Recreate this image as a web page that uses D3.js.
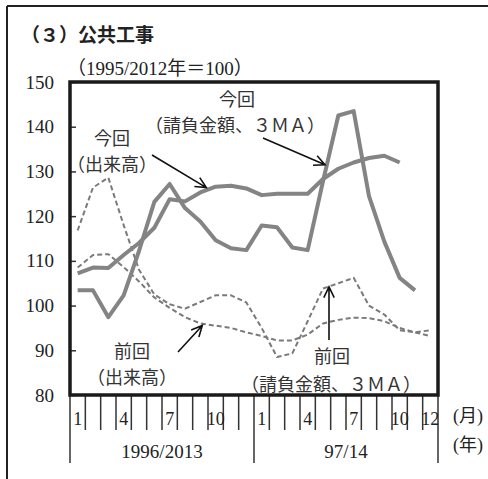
<!DOCTYPE html>
<html lang="ja">
<head>
<meta charset="utf-8">
<script src="https://cdn.jsdelivr.net/npm/d3@7/dist/d3.min.js"></script>
<style>
  html, body { margin: 0; padding: 0; background: #fff; }
  svg { display: block; }
</style>
</head>
<body>
<svg id="chart" width="488" height="479"></svg>
<script>
// （3）公共工事 — 今回 vs 前回, index (1995/2012 = 100), 24 months
const yTicks = [80, 90, 100, 110, 120, 130, 140, 150];
const periods = ["1996/2013", "97/14"];
const monthLabels = [[1, 4, 7, 10], [1, 4, 7, 10, 12]];

// 今回（請負金額、3MA）
const currentContract = [103.4, 103.4, 97.4, 102.3, 112.2, 123.2, 127.2, 121.8, 118.8, 114.6,
  112.8, 112.4, 117.9, 117.5, 113.0, 112.4, 127.8, 142.5, 143.5, 124.5, 114.3, 106.2, 103.4];
// 今回（出来高）
const currentOutput = [107.2, 108.5, 108.4, 111.3, 114.0, 117.4, 123.8, 123.3, 125.3, 126.6,
  126.8, 126.2, 124.7, 125.0, 125.0, 125.0, 128.3, 130.6, 132.0, 133.0, 133.5, 132.0];
// 前回（請負金額、3MA）
const previousContract = [116.8, 126.4, 128.6, 118.0, 108.0, 102.5, 100.3, 99.3, 100.8, 102.3,
  102.3, 100.7, 95.0, 88.5, 89.3, 96.5, 103.8, 105.0, 106.2, 100.0, 98.0, 94.5, 94.0, 94.5];
// 前回（出来高）
const previousOutput = [108.5, 111.3, 111.5, 108.6, 105.4, 101.8, 99.5, 97.4, 96.0, 95.5,
  95.0, 94.0, 93.2, 92.2, 92.2, 93.5, 96.0, 96.8, 97.3, 97.2, 96.5, 95.0, 94.0, 93.2];

const SERIF = '"Liberation Serif", "Noto Sans CJK JP", serif';
const SANS = '"Noto Sans CJK JP", sans-serif';

const svg = d3.select("#chart");
const plot = { left: 70, right: 438, top: 82, bottom: 395 };
const nMonths = 24;

const x = d3.scaleLinear().domain([0, nMonths]).range([plot.left, plot.right]);
const y = d3.scaleLinear().domain([80, 150]).range([plot.bottom, plot.top]);
const xm = i => x(i + 0.5);

// page frame (top and left rules)
svg.append("line").attr("x1", 7).attr("x2", 488).attr("y1", 6).attr("y2", 6)
  .attr("stroke", "#222").attr("stroke-width", 2);
svg.append("line").attr("x1", 7).attr("x2", 7).attr("y1", 6).attr("y2", 479)
  .attr("stroke", "#222").attr("stroke-width", 2);

// title and unit
svg.append("text").attr("x", 21).attr("y", 33).attr("dominant-baseline", "central")
  .attr("font-family", SANS).attr("font-weight", 700).attr("font-size", 19).attr("fill", "#222")
  .text("（３）公共工事");
svg.append("text").attr("x", 67).attr("y", 68).attr("dominant-baseline", "central")
  .attr("font-family", SERIF).attr("font-size", 19).attr("fill", "#222")
  .text("（1995/2012年＝100）");

// y axis: inward ticks, labels on the left
const yAxis = d3.axisLeft(y).tickValues(yTicks).tickSizeInner(-6).tickSizeOuter(0).tickPadding(16);
const gy = svg.append("g").attr("transform", `translate(${plot.left},0)`).call(yAxis);
gy.select(".domain").remove();
gy.selectAll(".tick line").attr("stroke", "#333").attr("stroke-width", 1.5);
gy.selectAll(".tick text").attr("font-family", SERIF).attr("font-size", 19).attr("fill", "#222");

// x axis: month dividers below the plot, long dividers between years
const gx = svg.append("g");
gx.selectAll("line").data(d3.range(nMonths + 1)).join("line")
  .attr("x1", d => x(d)).attr("x2", d => x(d))
  .attr("y1", plot.bottom)
  .attr("y2", d => d % 12 === 0 ? 463 : 430)
  .attr("stroke", "#333").attr("stroke-width", 1.5);

const monthTicks = [];
monthLabels.forEach((ms, yi) => ms.forEach(m => monthTicks.push({ i: yi * 12 + m - 1, m })));
gx.selectAll("text.month").data(monthTicks).join("text").attr("class", "month")
  .attr("x", d => xm(d.i)).attr("y", 419).attr("text-anchor", "middle")
  .attr("dominant-baseline", "central")
  .attr("font-family", SERIF).attr("font-size", 18).attr("fill", "#222")
  .text(d => d.m);

gx.selectAll("text.year").data(periods).join("text").attr("class", "year")
  .attr("x", (d, k) => (x(k * 12) + x(k * 12 + 12)) / 2).attr("y", 451)
  .attr("text-anchor", "middle").attr("dominant-baseline", "central")
  .attr("font-family", SERIF).attr("font-size", 19).attr("fill", "#222")
  .text(d => d);

svg.append("text").attr("x", 453).attr("y", 416).attr("dominant-baseline", "central")
  .attr("font-family", SERIF).attr("font-size", 18).attr("fill", "#222").text("(月)");
svg.append("text").attr("x", 453).attr("y", 445).attr("dominant-baseline", "central")
  .attr("font-family", SERIF).attr("font-size", 18).attr("fill", "#222").text("(年)");

// series
const line = d3.line().x((d, i) => xm(i)).y(d => y(d)).curve(d3.curveLinear);
const lines = svg.append("g");
const series = [
  { data: previousOutput, dash: "5,3", width: 2, color: "#7a7a7a" },
  { data: previousContract, dash: "5,3", width: 2, color: "#7a7a7a" },
  { data: currentOutput, dash: null, width: 4, color: "#848484" },
  { data: currentContract, dash: null, width: 4, color: "#848484" }
];
lines.selectAll("path").data(series).join("path")
  .attr("d", d => line(d.data))
  .attr("fill", "none")
  .attr("stroke", d => d.color)
  .attr("stroke-width", d => d.width)
  .attr("stroke-dasharray", d => d.dash)
  .attr("stroke-linejoin", "round");

// plot frame
svg.append("rect").attr("x", plot.left).attr("y", plot.top)
  .attr("width", plot.right - plot.left).attr("height", plot.bottom - plot.top)
  .attr("fill", "none").attr("stroke", "#1a1a1a").attr("stroke-width", 3.5);

// annotations with arrows
function arrow(x1, y1, x2, y2) {
  const a = Math.atan2(y2 - y1, x2 - x1), L = 12, w = 0.45;
  const p = (ang) => [x2 - L * Math.cos(ang), y2 - L * Math.sin(ang)];
  const h1 = p(a - w), h2 = p(a + w);
  svg.append("path")
    .attr("d", `M${x1},${y1}L${x2},${y2}M${h1[0]},${h1[1]}L${x2},${y2}L${h2[0]},${h2[1]}`)
    .attr("fill", "none").attr("stroke", "#111").attr("stroke-width", 1.6);
}
function label(cx, cy, txt) {
  svg.append("text").attr("x", cx).attr("y", cy).attr("text-anchor", "middle")
    .attr("dominant-baseline", "central")
    .attr("font-family", SANS).attr("font-size", 18).attr("fill", "#333").text(txt);
}
label(237, 98, "今回");
label(235, 124, "（請負金額、３ＭＡ）");
arrow(263, 138, xm(16) + 2, y(131.5));
label(112, 137, "今回");
label(112, 163, "（出来高）");
arrow(152, 155, xm(8) + 6, y(126.6) + 1);
label(132, 350, "前回");
label(132, 376, "（出来高）");
arrow(178, 352, xm(8) + 2, y(96) + 2);
label(332, 355, "前回");
label(331, 383, "（請負金額、３ＭＡ）");
arrow(329, 340, 329, y(104.2));
</script>
</body>
</html>
